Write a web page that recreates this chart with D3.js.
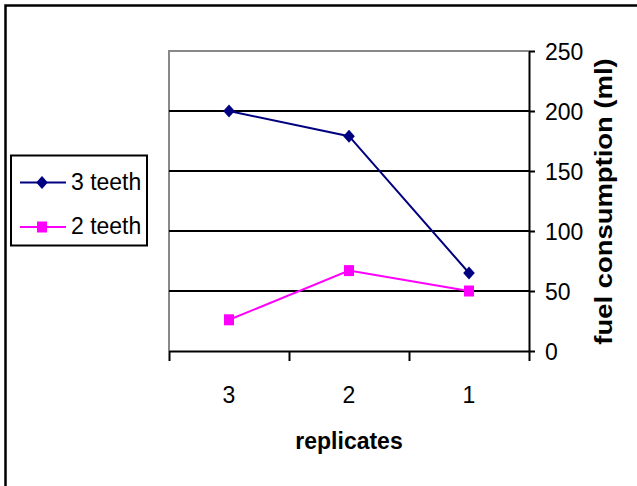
<!DOCTYPE html>
<html><head><meta charset="utf-8">
<script src="https://cdn.jsdelivr.net/npm/d3@7/dist/d3.min.js"></script>
<style>
html,body{margin:0;padding:0;background:#fff;}
svg{display:block;font-family:"Liberation Sans",Arial,sans-serif;}
</style></head>
<body>
<svg id="chart" width="637" height="486"></svg>
<script>
const categories = ["3", "2", "1"];
const teeth3 = [200, 179, 65];
const teeth2 = [26, 67, 50];
const seriesNames = ["3 teeth", "2 teeth"];
const yTicks = [0, 50, 100, 150, 200, 250];
const xTitle = "replicates";
const yTitle = "fuel consumption (ml)";

const svg = d3.select("#chart");
const L = 169, R = 529, T = 51, B = 351;
const x = d3.scaleBand().domain(categories).range([L, R]);
const xb = d3.scaleLinear().domain([0, categories.length]).range([L, R]);
const y = d3.scaleLinear().domain([0, 250]).range([B, T]);
const SY = 1.08;

// outer border
svg.append("path").attr("d", "M5.5,486 V5.5 H637").attr("fill", "none")
  .attr("stroke", "#000").attr("stroke-width", 2.5);

// plot area border (gray left/top)
svg.append("path").attr("d", `M${L},${B} V${T} H${R}`).attr("fill", "none")
  .attr("stroke", "#888").attr("stroke-width", 2);

// gridlines
svg.append("g").selectAll("line").data(yTicks.filter(d => d > 0 && d < 250)).join("line")
  .attr("x1", L).attr("x2", R).attr("y1", d => y(d)).attr("y2", d => y(d))
  .attr("stroke", "#000").attr("stroke-width", 2);

// x axis
const gx = svg.append("g").attr("transform", `translate(0,${B})`)
  .call(d3.axisBottom(xb).tickValues(d3.range(categories.length + 1)).tickFormat("").tickSize(10).tickSizeOuter(0));
gx.select(".domain").attr("stroke", "#000").attr("stroke-width", 2);
gx.selectAll(".tick line").attr("stroke", "#000").attr("stroke-width", 2);

svg.append("g").selectAll("text").data(categories).join("text")
  .attr("transform", d => `translate(${x(d) + x.bandwidth() / 2},402.5) scale(1,${SY})`)
  .attr("text-anchor", "middle").attr("font-size", 23).attr("fill", "#000").text(d => d);

// y axis right
const gy = svg.append("g").attr("transform", `translate(${R},0)`)
  .call(d3.axisRight(y).tickValues(yTicks).tickSize(6).tickSizeOuter(0).tickPadding(10));
gy.select(".domain").attr("stroke", "#000").attr("stroke-width", 2);
gy.selectAll(".tick line").attr("stroke", "#000").attr("stroke-width", 2);
gy.selectAll(".tick text").attr("font-size", 23).attr("fill", "#000")
  .attr("font-family", "Liberation Sans, Arial, sans-serif")
  .attr("dy", "0.36em").attr("transform", `scale(1,${SY})`);

// titles
svg.append("text").attr("transform", `translate(349,449) scale(1,${SY})`)
  .attr("text-anchor", "middle").attr("font-size", 23).attr("font-weight", "bold").text(xTitle);
svg.append("text").attr("transform", `translate(612,201.5) scale(1,1.12) rotate(-90)`)
  .attr("text-anchor", "middle").attr("font-size", 24.5).attr("font-weight", "bold").text(yTitle);

// series
const line = d3.line().x((d, i) => x(categories[i]) + x.bandwidth() / 2).y(d => y(d));
svg.append("path").datum(teeth3).attr("d", line).attr("fill", "none")
  .attr("stroke", "#000080").attr("stroke-width", 2);
svg.append("path").datum(teeth2).attr("d", line).attr("fill", "none")
  .attr("stroke", "#FF00FF").attr("stroke-width", 2);

const diamond = (cx, cy) => `M${cx},${cy - 6.5} L${cx + 5.8},${cy} L${cx},${cy + 6.5} L${cx - 5.8},${cy} Z`;
svg.append("g").selectAll("path").data(teeth3).join("path")
  .attr("d", (d, i) => diamond(x(categories[i]) + x.bandwidth() / 2, y(d)))
  .attr("fill", "#000080");
svg.append("g").selectAll("rect").data(teeth2).join("rect")
  .attr("x", (d, i) => x(categories[i]) + x.bandwidth() / 2 - 5)
  .attr("y", d => y(d) - 5.5).attr("width", 10).attr("height", 11)
  .attr("fill", "#FF00FF");

// legend
const lg = svg.append("g");
lg.append("rect").attr("x", 11).attr("y", 155.5).attr("width", 136).attr("height", 90)
  .attr("fill", "#fff").attr("stroke", "#000").attr("stroke-width", 2);
const legendY = [182.5, 227];
const colors = ["#000080", "#FF00FF"];
seriesNames.forEach((name, i) => {
  lg.append("line").attr("x1", 20).attr("x2", 66).attr("y1", legendY[i]).attr("y2", legendY[i])
    .attr("stroke", colors[i]).attr("stroke-width", 2);
  if (i === 0) lg.append("path").attr("d", diamond(42, legendY[i])).attr("fill", colors[i]);
  else lg.append("rect").attr("x", 37).attr("y", legendY[i] - 5.5).attr("width", 10).attr("height", 11).attr("fill", colors[i]);
  lg.append("text").attr("transform", `translate(71,${legendY[i] + 7}) scale(1,${SY})`)
    .attr("font-size", 23).attr("fill", "#000").text(name);
});
</script>
</body></html>
